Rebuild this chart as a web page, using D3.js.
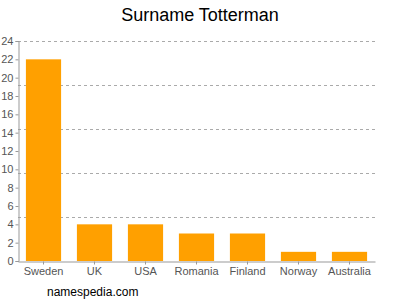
<!DOCTYPE html>
<html>
<head>
<script src="https://cdn.jsdelivr.net/npm/d3@7"></script>
<style>
  body { margin: 0; background: #fff; }
  text { font-family: "Liberation Sans", Arial, sans-serif; }
</style>
</head>
<body>
<script>
  var countries = ["Sweden", "UK", "USA", "Romania", "Finland", "Norway", "Australia"];
  var counts = [22, 4, 4, 3, 3, 1, 1];
  var yTicks = [0, 2, 4, 6, 8, 10, 12, 14, 16, 18, 20, 22, 24];
  var gridValues = [4.8, 9.6, 14.4, 19.2, 24];

  var plotLeft = 18, plotRight = 375, plotTop = 41, plotBottom = 261;

  var svg = d3.select("body").append("svg")
    .attr("width", 400)
    .attr("height", 300);

  var x = d3.scaleBand()
    .domain(countries)
    .range([plotLeft, plotRight])
    .paddingInner(0.31)
    .paddingOuter(0.155);

  var y = d3.scaleLinear()
    .domain([0, 24])
    .range([plotBottom, plotTop]);

  // title
  svg.append("text")
    .attr("x", 200)
    .attr("y", 21)
    .attr("text-anchor", "middle")
    .style("font-size", "18px")
    .style("fill", "#000")
    .text("Surname Totterman");

  // dashed grid
  svg.selectAll(".grid")
    .data(gridValues)
    .enter().append("line")
    .attr("x1", plotLeft)
    .attr("x2", plotRight)
    .attr("y1", function(d) { return Math.round(y(d)) + 0.5; })
    .attr("y2", function(d) { return Math.round(y(d)) + 0.5; })
    .style("stroke", "#aaa")
    .style("stroke-dasharray", "3,3");

  // bars
  svg.selectAll(".bar")
    .data(counts)
    .enter().append("rect")
    .attr("x", function(d, i) { return x(countries[i]); })
    .attr("width", x.bandwidth())
    .attr("y", function(d) { return y(d); })
    .attr("height", function(d) { return plotBottom - y(d); })
    .style("fill", "#ffa000");

  // y axis
  var yAxis = svg.append("g")
    .attr("transform", "translate(" + (plotLeft + 0.5) + ",0)")
    .call(d3.axisLeft(y).tickValues(yTicks).tickSize(3).tickPadding(2));
  yAxis.select(".domain").style("stroke", "#999");
  yAxis.selectAll(".tick line").style("stroke", "#999");
  yAxis.selectAll("text")
    .style("font-size", "11px")
    .style("fill", "#555")
    .style("font-family", "Liberation Sans, Arial, sans-serif");

  // x axis
  var xAxis = svg.append("g")
    .attr("transform", "translate(0," + (plotBottom + 0.5) + ")")
    .call(d3.axisBottom(x).tickSize(3).tickSizeOuter(0).tickPadding(3));
  xAxis.select(".domain").style("stroke", "#999");
  xAxis.selectAll(".tick line").style("stroke", "#999");
  xAxis.selectAll("text")
    .style("font-size", "11px")
    .style("fill", "#555")
    .style("font-family", "Liberation Sans, Arial, sans-serif");

  // footer
  svg.append("text")
    .attr("x", 47)
    .attr("y", 296)
    .style("font-size", "12px")
    .style("fill", "#000")
    .text("namespedia.com");
</script>
</body>
</html>
